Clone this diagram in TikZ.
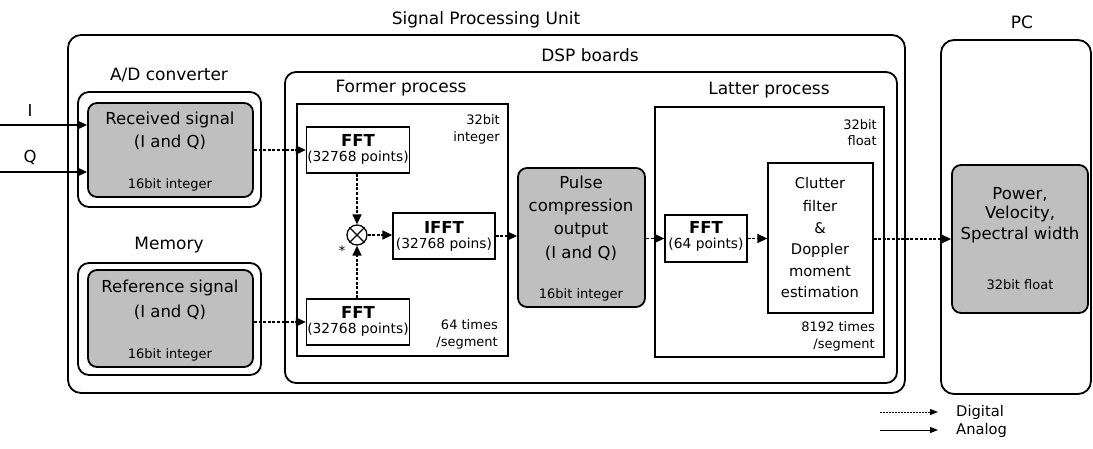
\documentclass[tikz,border=0pt]{standalone}
\usepackage{fontspec}
\setmainfont{DejaVu Sans}
\usetikzlibrary{arrows.meta,calc}
\newcommand{\fhead}{\fontsize{17}{20}\selectfont}
\newcommand{\fmain}{\fontsize{16.5}{19}\selectfont}
\newcommand{\fmid}{\fontsize{14.7}{17}\selectfont}
\newcommand{\fsmall}{\fontsize{13}{15}\selectfont}
\newcommand{\fpts}{\fontsize{13.8}{16}\selectfont}
\begin{document}
\begin{tikzpicture}[x=1pt,y=-1pt,
  grp/.style={draw, line width=1.8pt, rounded corners=13pt, inner sep=0pt},
  sub/.style={draw, line width=1.8pt, rounded corners=11pt, inner sep=0pt},
  graybox/.style={draw, line width=1.8pt, rounded corners=9pt, fill=black!25, inner sep=0pt},
  sq/.style={draw, line width=1.4pt, inner sep=0pt},
  proc/.style={draw, line width=1.3pt, inner sep=0pt, fill=white},
  txt/.style={inner sep=0pt, font=\fmain},
  dig/.style={line width=1.4pt, dash pattern=on 3pt off 1.6pt, -{Triangle[length=10pt,width=9pt]}},
  ana/.style={line width=1.4pt, -{Triangle[length=10pt,width=9pt]}},
  legdig/.style={line width=1pt, dash pattern=on 2pt off 1pt, -{Triangle[length=8pt,width=6pt]}},
  legana/.style={line width=1pt, -{Triangle[length=8pt,width=6pt]}}
]
\useasboundingbox (0,0) rectangle (1093,448);

% containers
\node[grp, minimum width=837pt, minimum height=358pt] (spu) at (486.5,214) {};
\node[grp, minimum width=150pt, minimum height=354pt] (pc) at (1016,217) {};
\node[sub, minimum width=612pt, minimum height=311pt] (dsp) at (591,227.5) {};
\node[sub, minimum width=183pt, minimum height=115pt] (adc) at (169.5,149.5) {};
\node[sub, minimum width=183pt, minimum height=112pt] (mem) at (169.5,319) {};
\node[sq, minimum width=211pt, minimum height=252pt] (former) at (402.5,230) {};
\node[sq, minimum width=229pt, minimum height=250pt] (latter) at (769.5,232) {};

% titles
\node[txt, font=\fhead] (tspu) at (486,20) {Signal Processing Unit};
\node[txt, font=\fhead] (tpc) at (1022,22) {PC};
\node[txt, font=\fhead] (tdsp) at (590,55) {DSP boards};
\node[txt, font=\fhead] (tadc) at (169,75) {A/D converter};
\node[txt, font=\fhead] (tmem) at (169,245) {Memory};
\node[txt, font=\fhead] (tformer) at (401,88) {Former process};
\node[txt, font=\fhead] (tlatter) at (769,90) {Latter process};

% received signal
\node[graybox, minimum width=165pt, minimum height=94pt] (recv) at (170.5,150) {};
\node[txt] (recv1) at (170,120) {Received signal};
\node[txt] (recv2) at (170,142) {(I and Q)};
\node[txt, font=\fsmall] (recv3) at (170,185) {16bit integer};

% reference signal
\node[graybox, minimum width=165pt, minimum height=97pt] (ref) at (170.5,318.5) {};
\node[txt] (ref1) at (170,288) {Reference signal};
\node[txt] (ref2) at (170,312) {(I and Q)};
\node[txt, font=\fsmall] (ref3) at (170,355) {16bit integer};

% inputs
\coordinate (iin) at (0,125);
\coordinate (qin) at (0,172);
\node[txt] (ilab) at (30,110) {I};
\node[txt] (qlab) at (30,157) {Q};

% former process
\node[txt, font=\fsmall, anchor=east] (fi1) at (500,120) {32bit};
\node[txt, font=\fsmall, anchor=east] (fi2) at (500,138) {integer};
\node[proc, minimum width=103pt, minimum height=46pt] (fft1) at (358,150) {};
\node[txt, font=\fmain\bfseries] (fft1a) at (358,140) {FFT};
\node[txt, font=\fpts] (fft1b) at (358,158) {(32768 points)};
\node[proc, minimum width=103pt, minimum height=46pt] (fft2) at (358,322) {};
\node[txt, font=\fmain\bfseries] (fft2a) at (358,312) {FFT};
\node[txt, font=\fpts] (fft2b) at (358,330) {(32768 points)};
\node[draw, line width=1.3pt, circle, minimum size=20pt, inner sep=0pt] (mult) at (357,235) {};
\draw[line width=1.1pt] (mult.north west) -- (mult.south east) (mult.north east) -- (mult.south west);
\node[txt, font=\fsmall] (star) at (342,251) {*};
\node[proc, minimum width=102pt, minimum height=46pt] (ifft) at (444,236) {};
\node[txt, font=\fmain\bfseries] (ifft1) at (444,227) {IFFT};
\node[txt, font=\fpts] (ifft2) at (444,245) {(32768 poins)};
\node[txt, font=\fsmall, anchor=east] (fs1) at (498,325) {64 times};
\node[txt, font=\fsmall, anchor=east] (fs2) at (498,343) {/segment};

% pulse compression output
\node[graybox, minimum width=127pt, minimum height=139pt] (pulse) at (581.5,237.5) {};
\node[txt] (p1) at (581,182) {Pulse};
\node[txt] (p2) at (581,207) {compression};
\node[txt] (p3) at (581,230) {output};
\node[txt] (p4) at (581,253) {(I and Q)};
\node[txt, font=\fsmall] (p5) at (581,295) {16bit integer};

% latter process
\node[txt, font=\fsmall, anchor=east] (lf1) at (877,125) {32bit};
\node[txt, font=\fsmall, anchor=east] (lf2) at (877,141) {float};
\node[proc, minimum width=82pt, minimum height=47pt] (fft3) at (706,238.5) {};
\node[txt, font=\fmain\bfseries] (fft3a) at (706,227) {FFT};
\node[txt, font=\fpts] (fft3b) at (706,245) {(64 points)};
\node[proc, minimum width=105pt, minimum height=150pt] (clut) at (820.5,238) {};
\node[txt, font=\fmid] (c1) at (820,183) {Clutter};
\node[txt, font=\fmid] (c2) at (820,206) {filter};
\node[txt, font=\fmid] (c3) at (820,228) {\&};
\node[txt, font=\fmid] (c4) at (820,250) {Doppler};
\node[txt, font=\fmid] (c5) at (820,271) {moment};
\node[txt, font=\fmid] (c6) at (820,292) {estimation};
\node[txt, font=\fsmall, anchor=east] (ls1) at (875,327) {8192 times};
\node[txt, font=\fsmall, anchor=east] (ls2) at (875,345) {/segment};

% PC output
\node[graybox, minimum width=136pt, minimum height=148pt] (pcout) at (1020,239) {};
\node[txt] (o1) at (1020,194) {Power,};
\node[txt] (o2) at (1020,214) {Velocity,};
\node[txt] (o3) at (1020,235) {Spectral width};
\node[txt, font=\fsmall] (o4) at (1020,285) {32bit float};

% connectors
\draw[ana] (iin) -- (iin -| recv.west);
\draw[ana] (qin) -- (qin -| recv.west);
\draw[dig] (recv.east |- fft1.west) -- (fft1.west);
\draw[dig] (ref.east |- fft2.west) -- (fft2.west);
\draw[dig] (fft1.south -| mult.north) -- (mult.north);
\draw[dig] (fft2.north -| mult.south) -- (mult.south);
\draw[dig] (mult.east) -- (ifft.west |- mult.east);
\draw[dig] (ifft.east) -- (pulse.west |- ifft.east);
\draw[dig] (pulse.east |- fft3.west) -- (fft3.west);
\draw[dig] (fft3.east) -- (clut.west |- fft3.east);
\draw[dig] (clut.east |- pcout.west) -- (pcout.west);

% legend
\coordinate (ld1) at (880,412);
\coordinate (ld2) at (938,412);
\coordinate (la1) at (880,430);
\coordinate (la2) at (938,430);
\draw[legdig] (ld1) -- (ld2);
\draw[legana] (la1) -- (la2);
\node[txt, font=\fmid, anchor=west] (lgd) at (956,412) {Digital};
\node[txt, font=\fmid, anchor=west] (lga) at (956,430) {Analog};
\end{tikzpicture}
\end{document}
